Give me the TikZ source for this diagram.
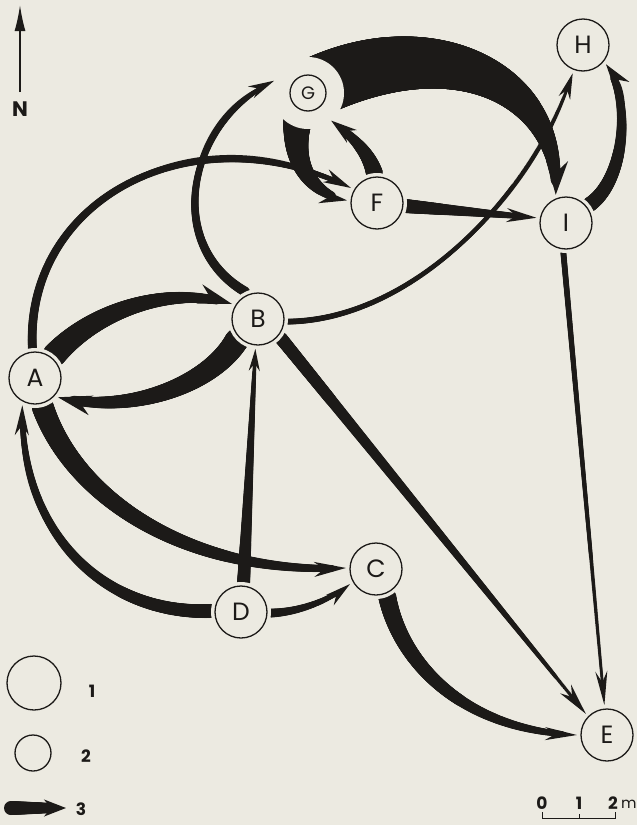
\documentclass[tikz,border=0pt]{standalone}
\usepackage{fontspec}
\setmainfont{Poppins}
\usetikzlibrary{arrows.meta, decorations.markings, calc}
\definecolor{paper}{HTML}{ECEAE1}
\definecolor{ink}{HTML}{1C1A18}
\pgfdeclarelayer{back}
\pgfdeclarelayer{flows}
\pgfsetlayers{back,flows,main}
\newcommand{\sitefont}{\fontsize{25}{25}\selectfont}
\newcommand{\subfont}{\fontsize{18}{18}\selectfont}
\newcommand{\keyfont}{\fontsize{17}{17}\selectfont\bfseries}
\tikzset{
  site/.style={circle, draw=ink, line width=1.3pt, fill=paper, minimum size=52pt,
    inner sep=0pt, outer sep=4pt, text=ink, font=\sitefont},
  subsite/.style={site, minimum size=36pt, outer sep=18pt, font=\subfont},
  flow/.style={draw=ink, line width=2pt},
  ahead/.style 2 args={-{Stealth[length=#1pt, width=#2pt]}},
  tband/.style n args={4}{postaction={decorate, decoration={markings,
    mark=between positions 0 and -16pt step 1pt with {%
      \pgfmathsetmacro\tf{\pgfkeysvalueof{/pgf/decoration/mark info/distance from start}/\pgfdecoratedpathlength}%
      \pgfmathsetmacro\tr{0.5*(#2+(#1-#2)*pow(max(1-pow(\tf,#3),0.0001),#4))}%
      \fill[ink] (0,0) circle (\tr pt);}}}},
  taper/.style 2 args={tband={#1}{#2}{1}{1}},
  swell/.style 2 args={tband={#1}{#2}{2}{1.5}},
}

\begin{document}
\begin{tikzpicture}[x=1pt, y=-1pt]
  \useasboundingbox (0,0) rectangle (637,825);
  \begin{pgfonlayer}{back}
    \fill[paper] (0,0) rectangle (637,825);
  \end{pgfonlayer}

  \node[site] (A) at (35,378) {A};
  \node[site] (B) at (258,319) {B};
  \node[site] (C) at (376,569) {C};
  \node[site] (D) at (241,612) {D};
  \node[site] (E) at (607,735) {E};
  \node[site] (F) at (377,203) {F};
  \node[subsite] (G) at (308,93) {G};
  \node[site] (H) at (583,45) {H};
  \node[site] (I) at (566,223) {I};

  \begin{pgfonlayer}{flows}
    \draw[flow, swell={60}{8}, ahead={34}{22}] ($(G)+(35:12pt)$) .. controls (440,30) and (560,80) .. (I.110);
    \draw[flow, taper={32}{5}, ahead={28}{15}] ($(G)+(-121:14pt)$) .. controls (285,165) and (315,195) .. (F.175);
    \draw[flow, taper={17}{5}, ahead={26}{16}] (F.95) .. controls (368,150) and (350,135) .. (G.-50);
    \draw[flow, taper={14}{4}, ahead={30}{14}] (F.-6) -- (I.170);
    \draw[flow, taper={15}{6}, ahead={28}{17}] (I.38) .. controls (625,180) and (632,100) .. (H.-40);
    \draw[flow, taper={6}{3}, ahead={26}{12}] (B.-5) .. controls (410,320) and (530,200) .. (H.-110);
    \draw[flow, taper={24}{7}, ahead={34}{20}] (A.50) .. controls (95,310) and (170,285) .. (B.150);
    \draw[flow, taper={24}{8}, ahead={34}{20}] (B.-135) .. controls (210,385) and (130,415) .. (A.-40);
    \draw[flow, taper={9}{5}, ahead={28}{14}] (A.95) .. controls (25,200) and (190,110) .. (F.150);
    \draw[flow, taper={10}{4}, ahead={26}{13}] (B.115) .. controls (165,245) and (185,125) .. (G.160);
    \draw[flow, taper={13}{3}, ahead={32}{14}] (B.-40) -- (E.135);
    \draw[flow, taper={6}{3}, ahead={34}{12}] (I.-95) -- (E.95);
    \draw[flow, taper={22}{6}, ahead={32}{15}] (A.-75) .. controls (75,500) and (190,575) .. (C.178);
    \draw[flow, taper={14}{5}, ahead={30}{14}] (D.178) .. controls (110,615) and (20,540) .. (A.-115);
    \draw[flow, taper={13}{3}, ahead={22}{11}] (D.85) -- (B.-95);
    \draw[flow, taper={9}{4}, ahead={26}{13}] (D.-2) .. controls (300,612) and (330,600) .. (C.-150);
    \draw[flow, taper={18}{5}, ahead={32}{13}] (C.-68) .. controls (400,660) and (460,730) .. (E.180);
    \foreach \n in {A,B,C,D,E,F,H,I}
      \fill[paper] (\n) circle (30pt);
    \fill[paper] (G) circle (36pt);
  \end{pgfonlayer}

  % north
  \coordinate (nfoot) at (20,92);
  \coordinate (ntip) at (20,5);
  \draw[ink, line width=1.6pt, -{Latex[length=26pt, width=11pt]}] (nfoot) -- (ntip);
  \node[text=ink, font=\fontsize{21}{21}\selectfont\bfseries] (north) at (20,109) {N};

  % key
  \node[site, minimum size=54pt] (k1) at (34,683) {};
  \node[subsite] (k2) at (33,753) {};
  \coordinate (k3a) at (11,808);
  \coordinate (k3b) at (66,808);
  \draw[flow, taper={14}{9}, ahead={22}{17}] (k3a) -- (k3b);
  \node[text=ink, font=\keyfont] (k1t) at (92,691) {1};
  \node[text=ink, font=\keyfont] (k2t) at (86,756) {2};
  \node[text=ink, font=\keyfont] (k3t) at (81,809) {3};

  % scale
  \draw[ink, line width=1pt] (542,812) -- (542,818) -- (615,818) -- (615,812) (579,818) -- (579,814);
  \node[text=ink, font=\keyfont] (s0) at (542,803) {0};
  \node[text=ink, font=\keyfont] (s1) at (579,803) {1};
  \node[text=ink, font=\keyfont] (s2) at (613,803) {2};
  \node[text=ink, font=\fontsize{15}{15}\selectfont, anchor=west, inner sep=1pt] (sm) at (620,804) {m};
\end{tikzpicture}
\end{document}
